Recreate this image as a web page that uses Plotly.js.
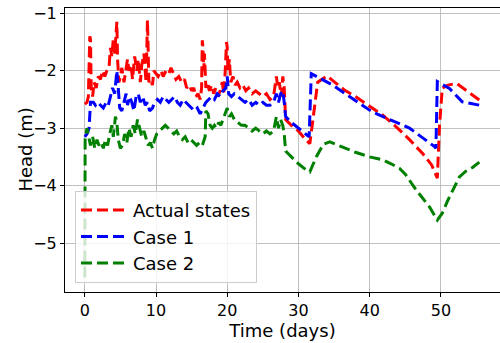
<!DOCTYPE html>
<html>
<head>
<meta charset="utf-8">
<script src="https://cdn.plot.ly/plotly-3.0.1.min.js"></script>
<style>
  html, body { margin: 0; padding: 0; background: #fff; overflow: hidden; }
  #chart { width: 500px; height: 343px; }
</style>
</head>
<body>
<div id="chart"></div>
<script>
// Observed hydraulic head (Actual states)
const actualDays = [
  0.0, 0.3, 0.5, 0.7, 0.8, 0.9, 1.1, 1.3, 1.6, 1.9, 2.2, 2.5, 2.8, 3.1, 3.4, 3.6, 3.8, 4.0, 4.2, 4.4,
  4.5, 4.6, 4.8, 5.0, 5.2, 5.5, 5.8, 6.0, 6.2, 6.5, 6.7, 7.0, 7.3, 7.5, 7.8, 8.0, 8.3, 8.6, 8.8, 8.9,
  9.0, 9.2, 9.5, 9.7, 10.0, 10.3, 10.7, 11.0, 11.4, 11.8, 12.1, 12.5, 12.8, 13.2, 13.6, 14.0, 14.3, 14.7, 15.0, 15.3,
  15.6, 15.9, 16.2, 16.4, 16.5, 16.6, 16.7, 16.8, 17.0, 17.2, 17.5, 17.8, 18.1, 18.4, 18.7, 19.0, 19.3, 19.5, 19.7, 19.9,
  20.0, 20.1, 20.3, 20.5, 20.8, 21.1, 21.4, 21.8, 22.2, 22.6, 23.0, 23.5, 24.0, 24.5, 25.0, 25.5, 26.0, 26.5, 26.8, 26.9,
  27.1, 27.3, 27.6, 27.8, 28.0, 28.2, 29.0, 30.0, 31.0, 31.6, 32.7, 34.0, 36.4, 38.0, 40.0, 41.8, 43.5, 45.6, 47.5, 48.7,
  49.5, 49.8, 50.2, 51.0, 52.2, 53.6, 55.4
];
const actualHead = [
  -2.58, -2.55, -2.45, -1.40, -1.45, -2.30, -2.45, -2.20, -2.30, -2.10, -2.15, -2.00, -2.10, -2.00, -1.95, -1.60, -1.75, -1.45, -1.70, -1.20,
  -1.15, -1.80, -2.20, -2.10, -1.95, -2.20, -2.00, -1.80, -2.00, -1.90, -2.15, -1.75, -2.00, -1.80, -2.20, -1.90, -1.70, -2.20, -1.12, -1.50,
  -2.20, -2.15, -2.25, -2.00, -2.05, -2.10, -2.00, -2.10, -2.00, -2.05, -1.95, -2.05, -2.15, -2.10, -2.20, -2.15, -2.30, -2.25, -2.35, -2.30,
  -2.45, -2.40, -2.50, -2.30, -1.47, -1.60, -2.00, -1.70, -2.30, -2.20, -2.35, -2.25, -2.40, -2.30, -2.45, -2.35, -2.20, -2.40, -2.05, -1.50,
  -1.60, -2.00, -1.80, -2.20, -2.10, -2.25, -2.20, -2.30, -2.25, -2.35, -2.30, -2.40, -2.35, -2.40, -2.45, -2.40, -2.50, -2.45, -2.20, -2.10,
  -2.30, -2.20, -2.45, -2.10, -2.30, -2.85, -2.95, -3.05, -3.20, -3.27, -2.20, -2.09, -2.33, -2.45, -2.62, -2.77, -2.95, -3.20, -3.45, -3.64,
  -3.87, -2.97, -2.30, -2.25, -2.22, -2.34, -2.51
];

// Case 1 simulated head
const case1Days = [
  0.0, 0.3, 0.6, 0.8, 1.2, 1.5, 1.8, 2.2, 2.6, 3.0, 3.3, 3.6, 3.9, 4.2, 4.5, 4.7, 4.9, 5.2, 5.5, 5.8,
  6.0, 6.3, 6.6, 6.9, 7.2, 7.5, 7.8, 8.1, 8.5, 8.8, 9.1, 9.5, 9.8, 10.2, 10.6, 11.0, 11.4, 11.8, 12.2, 12.6,
  13.0, 13.4, 13.8, 14.2, 14.6, 15.0, 15.4, 15.8, 16.2, 16.6, 17.0, 17.4, 17.8, 18.2, 18.6, 19.0, 19.4, 19.8, 20.0, 20.2,
  20.6, 21.0, 21.5, 22.0, 22.5, 23.0, 23.5, 24.0, 24.5, 25.0, 25.5, 26.0, 26.5, 26.9, 27.2, 27.5, 27.8, 28.0, 28.2, 29.0,
  30.0, 31.0, 31.5, 31.8, 34.8, 40.4, 45.6, 49.1, 49.3, 49.5, 51.2, 53.0, 55.4
];
const case1Head = [
  -3.15, -3.10, -3.00, -2.55, -2.55, -2.60, -2.55, -2.60, -2.65, -2.55, -2.60, -2.45, -2.30, -2.40, -2.00, -2.30, -2.65, -2.70, -2.55, -2.40,
  -2.60, -2.45, -2.55, -2.70, -2.45, -2.40, -2.55, -2.45, -2.60, -2.55, -2.70, -2.65, -2.55, -2.50, -2.55, -2.45, -2.50, -2.55, -2.50, -2.45,
  -2.55, -2.60, -2.50, -2.55, -2.60, -2.65, -2.70, -2.65, -2.75, -2.65, -2.55, -2.50, -2.45, -2.50, -2.40, -2.45, -2.35, -2.30, -2.10, -2.40,
  -2.45, -2.40, -2.45, -2.50, -2.55, -2.50, -2.60, -2.55, -2.60, -2.55, -2.60, -2.60, -2.55, -2.40, -2.55, -2.40, -2.35, -2.55, -2.80, -2.90,
  -3.00, -3.10, -3.15, -2.05, -2.25, -2.72, -3.00, -3.32, -3.35, -2.19, -2.31, -2.54, -2.60
];

// Case 2 simulated head
const case2Days = [
  0.0, 0.05, 0.3, 0.5, 0.8, 1.1, 1.4, 1.7, 2.0, 2.3, 2.6, 2.9, 3.2, 3.5, 3.8, 4.0, 4.3, 4.5, 4.7, 5.0,
  5.3, 5.6, 5.9, 6.2, 6.5, 6.8, 7.1, 7.4, 7.7, 8.0, 8.3, 8.6, 8.9, 9.2, 9.5, 9.8, 10.1, 10.5, 10.9, 11.3,
  11.7, 12.1, 12.5, 12.9, 13.3, 13.7, 14.1, 14.5, 14.9, 15.3, 15.7, 16.1, 16.5, 16.9, 17.0, 17.3, 17.6, 17.9, 18.2, 18.5,
  18.8, 19.1, 19.4, 19.7, 20.0, 20.3, 20.6, 21.0, 21.5, 22.0, 22.5, 23.0, 23.5, 24.0, 24.5, 25.0, 25.5, 26.0, 26.5, 26.9,
  27.2, 27.5, 27.8, 28.0, 28.2, 29.0, 30.0, 31.0, 31.6, 32.5, 33.5, 34.4, 36.0, 38.0, 40.0, 41.8, 43.0, 44.2, 45.0, 46.5,
  48.4, 49.5, 50.2, 51.0, 52.0, 52.6, 53.5, 54.5, 55.4
];
const case2Head = [
  -5.60, -3.20, -3.00, -3.15, -3.30, -3.15, -3.35, -3.20, -3.30, -3.25, -3.35, -3.20, -3.30, -3.10, -2.95, -3.15, -2.80, -2.90, -3.20, -3.35,
  -3.30, -3.10, -3.25, -3.00, -3.15, -2.95, -3.10, -2.85, -3.00, -3.15, -3.05, -3.20, -3.30, -3.25, -3.35, -3.20, -3.10, -3.05, -3.00, -2.95,
  -3.00, -3.05, -3.10, -3.05, -3.15, -3.20, -3.15, -3.25, -3.20, -3.25, -3.30, -3.25, -3.30, -3.15, -2.70, -2.75, -2.95, -3.00, -2.95, -3.00,
  -2.90, -2.95, -2.85, -2.75, -2.65, -2.80, -2.75, -2.85, -2.90, -2.95, -2.95, -3.00, -3.05, -3.00, -3.05, -3.10, -3.05, -3.10, -3.05, -2.80,
  -3.00, -2.85, -2.95, -3.10, -3.40, -3.50, -3.62, -3.72, -3.76, -3.50, -3.28, -3.24, -3.32, -3.42, -3.50, -3.55, -3.62, -3.70, -3.80, -4.07,
  -4.37, -4.60, -4.48, -4.25, -4.00, -3.85, -3.75, -3.68, -3.59
];

const seriesNames = ['Actual states', 'Case 1', 'Case 2'];
const seriesColors = ['#ff0000', '#0000ff', '#008000'];
const xTicks = [0, 10, 20, 30, 40, 50];
const yTicks = [-5, -4, -3, -2, -1];

const FONT = 'DejaVu Sans, Liberation Sans, sans-serif';

function dashedLine(x, y, i) {
  return {
    x: x, y: y, type: 'scatter', mode: 'lines', name: seriesNames[i],
    line: { color: seriesColors[i], width: 3, dash: '11px,5px' }
  };
}

const traces = [
  dashedLine(actualDays, actualHead, 0),
  dashedLine(case1Days, case1Head, 1),
  dashedLine(case2Days, case2Head, 2)
];

const axisCommon = {
  showline: true, mirror: true, linecolor: '#000', linewidth: 1,
  ticks: 'outside', ticklen: 4, tickwidth: 1, tickcolor: '#000',
  showgrid: true, gridcolor: '#b0b0b0', gridwidth: 0.8,
  zeroline: false, tickfont: { family: FONT, size: 16, color: '#000' }
};

const layout = {
  width: 500, height: 343,
  margin: { l: 65, r: 0, t: 8, b: 51 },
  paper_bgcolor: '#fff', plot_bgcolor: '#fff',
  font: { family: FONT, color: '#000' },
  showlegend: true,
  legend: {
    x: 0.023, y: 0.032, xanchor: 'left', yanchor: 'bottom',
    itemwidth: 47,
    bgcolor: 'rgba(255,255,255,0.8)', bordercolor: '#cccccc', borderwidth: 1,
    font: { family: FONT, size: 18, color: '#000' }
  },
  xaxis: Object.assign({}, axisCommon, {
    range: [-2.78, 58.3], tickvals: xTicks,
    title: { text: 'Time (days)', font: { family: FONT, size: 18, color: '#000' }, standoff: 4 }
  }),
  yaxis: Object.assign({}, axisCommon, {
    range: [-5.852, -0.908], tickvals: yTicks
  }),
  annotations: [{
    text: 'Head (m)', textangle: -90, showarrow: false,
    xref: 'paper', yref: 'paper', x: -0.093, y: 0.5,
    xanchor: 'center', yanchor: 'middle',
    font: { family: FONT, size: 18, color: '#000' }
  }]
};

Plotly.newPlot('chart', traces, layout, { displayModeBar: false, staticPlot: true });
</script>
</body>
</html>
